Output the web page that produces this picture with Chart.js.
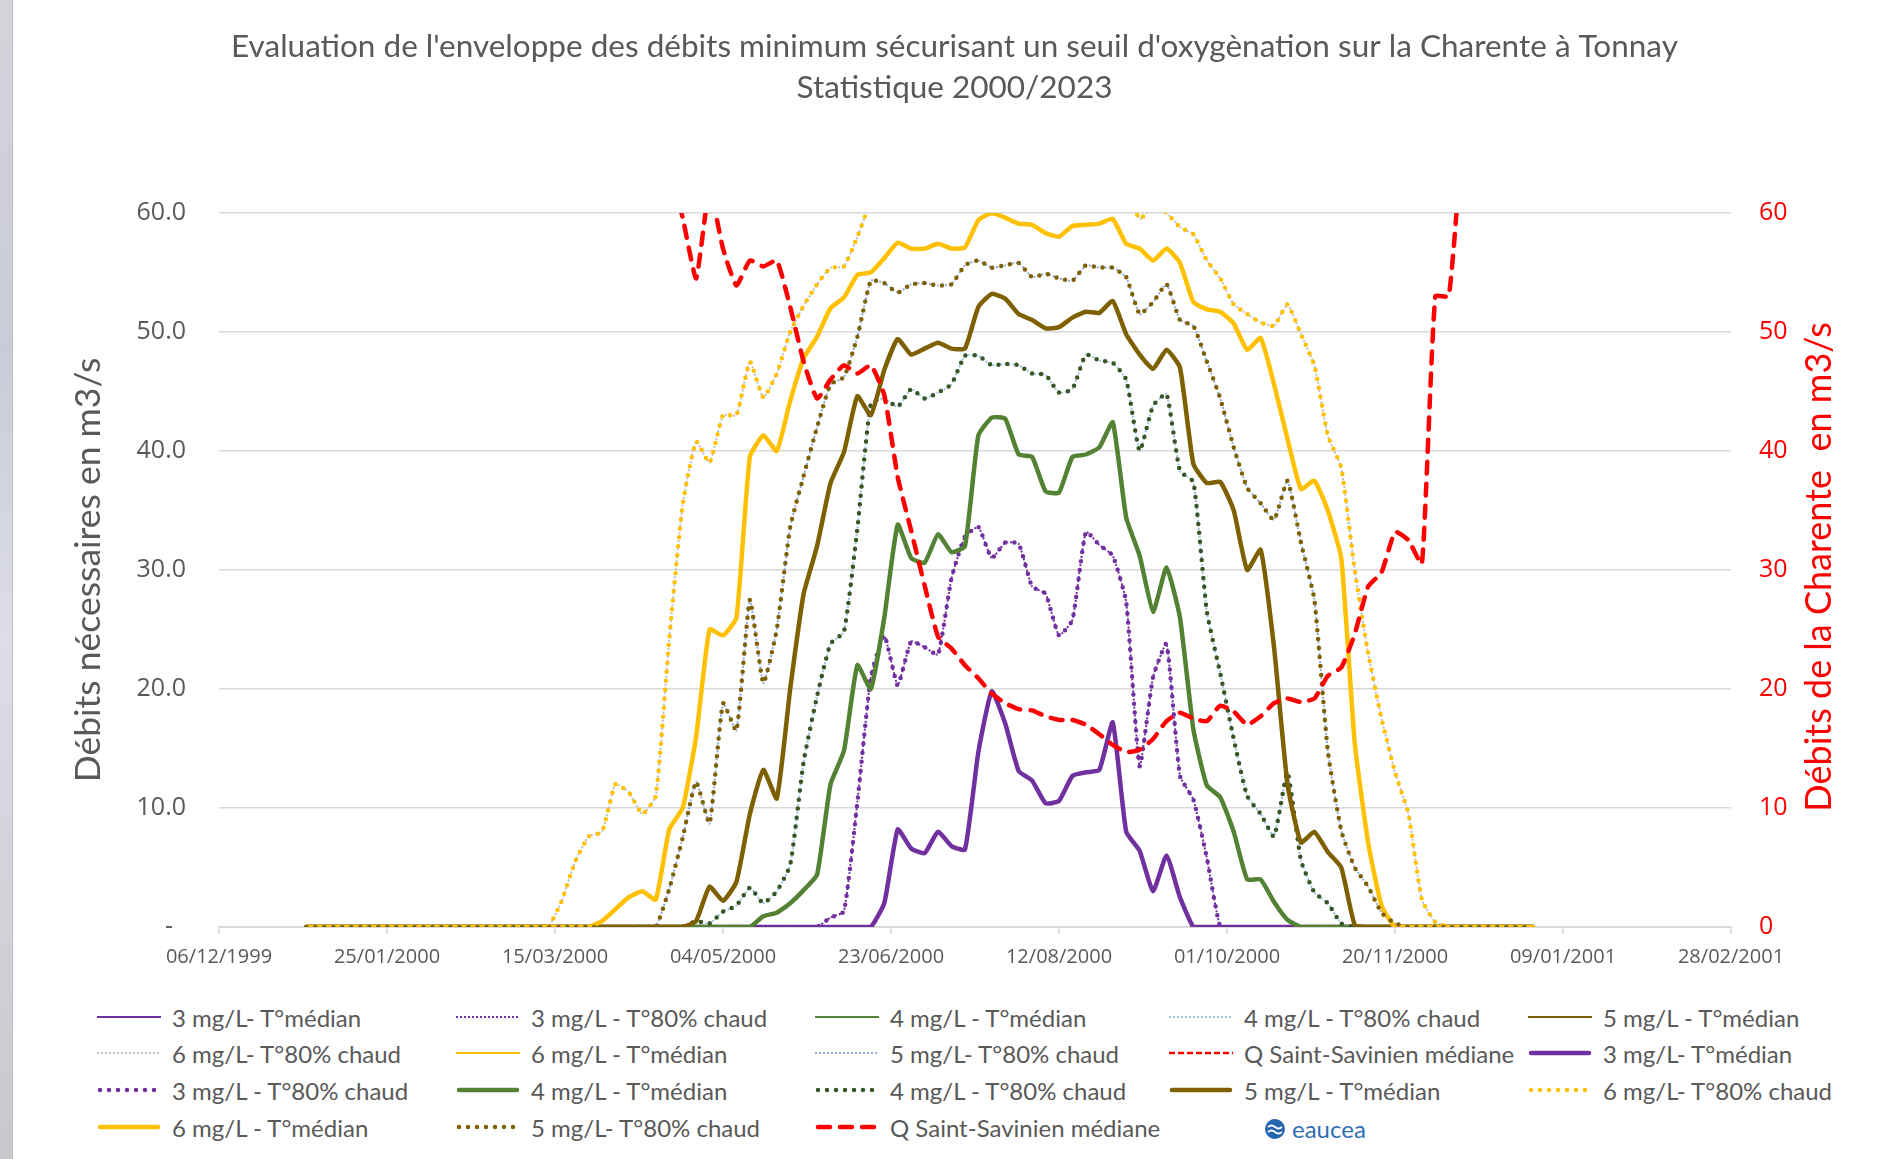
<!DOCTYPE html>
<html>
<head>
<meta charset="utf-8">
<title>Charente à Tonnay - enveloppe des débits</title>
<script src="https://cdn.jsdelivr.net/npm/chart.js@4.4.1/dist/chart.umd.min.js"></script>
<style>
    body { margin: 0; background: #fff; width: 1883px; height: 1159px; overflow: hidden; position: relative; font-family: Lato, sans-serif; }
    #bord { position: absolute; left: 0; top: 0; width: 12px; height: 1159px; background: linear-gradient(180deg, #d4d4da 0%, #c9cbd8 30%, #dcdde6 55%, #c8c8cc 100%); border-right: 1px solid #bfbfbf; }
    #zone { position: absolute; left: 0; top: 0; width: 1883px; height: 990px; }
    .item { position: absolute; display: flex; align-items: center; height: 30px; font-size: 24px; color: #595959; white-space: nowrap; }
    .item svg { margin-right: 11px; }
    #logo { position: absolute; left: 1264px; top: 1114px; display: flex; align-items: center; font-size: 24px; color: #2E6DB4; }
    #logo svg { margin-right: 6px; }
</style>
</head>
<body>
<div id="bord"></div>
<div id="zone"><canvas id="graphe"></canvas></div>
<div id="legende"></div>
<div id="logo"><svg width="22" height="22" viewBox="0 0 22 22"><circle cx="11" cy="11" r="10" fill="#2466B0"/><path d="M4 9 q3.5 -3 7 0 t7 0" stroke="#fff" stroke-width="1.8" fill="none"/><path d="M4 14 q3.5 -3 7 0 t7 0" stroke="#fff" stroke-width="1.8" fill="none"/></svg>eaucea</div>

<script>
// jours de l'annee 2000 (0 = 01/01/2000)
var jours = [0,
    60, 64, 68, 72, 76, 80, 84, 88, 92, 96, 100, 104,
    108, 112, 116, 120, 124, 128, 132, 136, 140, 144, 148, 152,
    156, 160, 164, 168, 172, 176, 180, 184, 188, 192, 196, 200,
    204, 208, 212, 216, 220, 224, 228, 232, 236, 240, 244, 248,
    252, 256, 260, 264, 268, 272, 276, 280, 284, 288, 292, 296,
    300, 304, 308, 312, 316, 320, 324, 328, 332, 336, 340, 344,
    348, 365];

// debits necessaires (m3/s)
var q3Median = [0,
    0, 0, 0, 0, 0, 0, 0, 0, 0, 0, 0, 0,
    0, 0, 0, 0, 0, 0, 0, 0, 0, 0, 0, 0,
    0, 0, 0, 0, 2, 8.2, 6.6, 6.2, 8, 6.8, 6.5, 14.7,
    19.8, 17.1, 13.1, 12.3, 10.4, 10.6, 12.7, 13, 13.2, 17.2, 8, 6.4,
    3, 6, 2.5, 0, 0, 0, 0, 0, 0, 0, 0, 0,
    0, 0, 0, 0, 0, 0, 0, 0, 0, 0, 0, 0,
    0, 0];

var q3Chaud = [0,
    0, 0, 0, 0, 0, 0, 0, 0, 0, 0, 0, 0,
    0, 0, 0, 0, 0, 0, 0, 0, 0, 0, 0, 0,
    0.8, 1.3, 10.5, 21, 24.5, 20.3, 24, 23.5, 22.9, 29.3, 32.8, 33.6,
    31, 32.3, 32.2, 28.6, 28, 24.5, 25.8, 33.2, 32.1, 31.2, 27.3, 13.5,
    21, 23.8, 12.7, 10.7, 5.8, 0, 0, 0, 0, 0, 0, 0,
    0, 0, 0, 0, 0, 0, 0, 0, 0, 0, 0, 0,
    0, 0];

var q4Median = [0,
    0, 0, 0, 0, 0, 0, 0, 0, 0, 0, 0, 0,
    0, 0, 0, 0, 0, 0, 0, 0.9, 1.2, 2, 3.1, 4.4,
    12, 14.8, 22, 20, 26, 33.8, 31, 30.6, 33, 31.5, 32, 41.3,
    42.8, 42.7, 39.7, 39.5, 36.6, 36.5, 39.5, 39.7, 40.3, 42.4, 34.4, 31.2,
    26.5, 30.2, 26, 16.6, 11.9, 10.9, 8, 4, 4, 2.1, 0.6, 0,
    0, 0, 0, 0, 0, 0, 0, 0, 0, 0, 0, 0,
    0, 0];

var q4Chaud = [0,
    0, 0, 0, 0, 0, 0, 0, 0, 0, 0, 0, 0,
    0, 0, 0.5, 0.3, 1.3, 1.8, 3.3, 2, 3, 5.2, 13.9, 19.4,
    23.8, 24.8, 33.5, 44, 44.4, 43.7, 45.2, 44.4, 44.9, 45.6, 48, 48,
    47.2, 47.3, 47.2, 46.5, 46.4, 44.9, 45.2, 48.1, 47.6, 47.4, 46, 40,
    43.8, 44.8, 38.3, 37.4, 26.5, 21.3, 15.8, 11, 9.5, 7.6, 13, 5.6,
    2.9, 2, 0.3, 0, 0, 0, 0, 0, 0, 0, 0, 0,
    0, 0];

var q5Median = [0,
    0, 0, 0, 0, 0, 0, 0, 0, 0, 0, 0, 0,
    0, 0, 0.5, 3.4, 2.2, 3.8, 9.5, 13.2, 10.8, 20, 28, 32,
    37.3, 39.9, 44.6, 43, 46.8, 49.4, 48.1, 48.6, 49.1, 48.6, 48.6, 52.1,
    53.2, 52.8, 51.5, 51, 50.3, 50.4, 51.2, 51.7, 51.6, 52.6, 49.8, 48.1,
    46.9, 48.5, 47, 38.9, 37.3, 37.4, 35, 30, 31.7, 23.5, 12, 7.1,
    8, 6.3, 5, 0.2, 0, 0, 0, 0, 0, 0, 0, 0,
    0, 0];

var q5Chaud = [0,
    0, 0, 0, 0, 0, 0, 0, 0, 0, 0, 0, 0,
    3.2, 7.5, 12.2, 8.7, 18.8, 16.5, 27.5, 20.5, 25, 33.6, 37.9, 42,
    45.6, 46.2, 49.6, 54.3, 54.1, 53.3, 54, 54.1, 53.9, 54, 55.6, 56,
    55.4, 55.6, 55.8, 54.6, 54.9, 54.5, 54.3, 55.6, 55.4, 55.4, 54.6, 51.5,
    52.5, 54, 51, 50.5, 47.5, 44.4, 40.3, 36.9, 35.6, 34.2, 37.5, 32.3,
    27.5, 14.8, 8.1, 5, 3.4, 1.2, 0.3, 0, 0, 0, 0, 0,
    0, 0];

var q6Median = [0,
    0, 0, 0, 0, 0, 0, 0, 0.5, 1.5, 2.5, 3, 2.3,
    8.2, 10, 16, 25, 24.5, 26, 39.5, 41.3, 40, 44.2, 47.8, 49.6,
    52, 52.9, 54.8, 55, 56.2, 57.5, 57, 57, 57.4, 57, 57.1, 59.4,
    60, 59.6, 59.1, 59, 58.3, 58, 58.9, 59, 59.1, 59.5, 57.4, 57,
    56, 57, 55.8, 52.5, 51.9, 51.7, 50.7, 48.5, 49.5, 45.6, 41, 36.8,
    37.5, 35, 31, 15.5, 7.1, 1.8, 0, 0, 0, 0, 0, 0,
    0, 0];

var q6Chaud = [0,
    0, 0, 0, 0, 2.2, 5.5, 7.6, 8, 12, 11.3, 9.5, 11,
    24.2, 35.5, 40.8, 39, 43, 43, 47.5, 44.5, 46.5, 50, 52.2, 54,
    55.4, 55.5, 58, 61, 63, 64, 64, 65, 65, 65, 66, 66,
    66, 66, 66, 66, 66, 66, 66, 66, 65, 64, 62, 59.5,
    60.5, 60, 58.8, 58.2, 56, 54.5, 52.3, 51.5, 50.8, 50.5, 52.3, 49.8,
    47.2, 41.3, 38.6, 30, 23, 17.5, 13, 9.5, 2.3, 0.4, 0, 0,
    0, 0];

// debit de la Charente (axe de droite)
var qSaintSavinien = [90,
    85, 85, 82, 80, 80, 78, 78, 76, 75, 72, 70, 68,
    64, 59.6, 54.5, 62, 57, 53.9, 56, 55.5, 56, 52.1, 47.5, 44.4,
    46, 47.2, 46.5, 47.2, 44.7, 37.8, 33.3, 28.7, 24.4, 23.4, 22, 20.9,
    19.6, 18.8, 18.3, 18.2, 17.7, 17.4, 17.4, 17, 16.2, 15.3, 14.7, 14.9,
    15.8, 17.3, 18, 17.5, 17.3, 18.6, 18.1, 17, 17.7, 18.8, 19.2, 18.9,
    19.2, 21.1, 21.8, 24.6, 28.6, 29.8, 33.2, 32.5, 30.5, 53, 53, 66,
    75, 90];

var datesAxe = ['06/12/1999', '25/01/2000', '15/03/2000', '04/05/2000', '23/06/2000',
    '12/08/2000', '01/10/2000', '20/11/2000', '09/01/2001', '28/02/2001'];

var titre = ["Evaluation de l'enveloppe des débits minimum sécurisant un seuil d'oxygènation sur la Charente à Tonnay",
    "Statistique 2000/2023"];
var titreAxeGauche = "Débits nécessaires en m3/s";
var titreAxeDroit = "Débits de la Charente  en m3/s";

// ecart entre le debut de l'axe (06/12/1999) et le 01/01/2000
var DECALAGE = (Date.UTC(2000, 0, 1) - Date.UTC(1999, 11, 6)) / 86400000;

var traits = {
    fin:      { largeur: 2,   tirets: [],      cap: 'butt' },
    finPoint: { largeur: 2,   tirets: [2, 2],  cap: 'butt' },
    finTiret: { largeur: 2.5, tirets: [6, 3],  cap: 'butt' },
    plein:    { largeur: 4.5, tirets: [],      cap: 'round' },
    point:    { largeur: 4.5, tirets: [0, 9],  cap: 'round' },
    tiret:    { largeur: 4.5, tirets: [12, 10], cap: 'round' }
};

// ordre de la legende (les series fines sont dessinees sous les epaisses)
var series = [
    { nom: '3 mg/L- T°médian',         valeurs: q3Median, couleur: '#7030A0', trait: 'fin' },
    { nom: '3 mg/L - T°80% chaud',     valeurs: q3Chaud,  couleur: '#7030A0', trait: 'finPoint' },
    { nom: '4 mg/L - T°médian',        valeurs: q4Median, couleur: '#548235', trait: 'fin' },
    { nom: '4 mg/L - T°80% chaud',     valeurs: q4Chaud,  couleur: '#9DC3E6', trait: 'finPoint' },
    { nom: '5 mg/L - T°médian',        valeurs: q5Median, couleur: '#7F6000', trait: 'fin' },
    { nom: '6 mg/L- T°80% chaud',      valeurs: q6Chaud,  couleur: '#BFBFBF', trait: 'finPoint' },
    { nom: '6 mg/L - T°médian',        valeurs: q6Median, couleur: '#FFC000', trait: 'fin' },
    { nom: '5 mg/L- T°80% chaud',      valeurs: q5Chaud,  couleur: '#8FAADC', trait: 'finPoint' },
    { nom: 'Q Saint-Savinien médiane', valeurs: [],       couleur: '#FF0000', trait: 'finTiret', axe: 'y2' },
    { nom: '3 mg/L- T°médian',         valeurs: q3Median, couleur: '#7030A0', trait: 'plein' },
    { nom: '3 mg/L - T°80% chaud',     valeurs: q3Chaud,  couleur: '#7030A0', trait: 'point' },
    { nom: '4 mg/L - T°médian',        valeurs: q4Median, couleur: '#548235', trait: 'plein' },
    { nom: '4 mg/L - T°80% chaud',     valeurs: q4Chaud,  couleur: '#375623', trait: 'point' },
    { nom: '5 mg/L - T°médian',        valeurs: q5Median, couleur: '#7F6000', trait: 'plein' },
    { nom: '6 mg/L- T°80% chaud',      valeurs: q6Chaud,  couleur: '#FFC000', trait: 'point' },
    { nom: '6 mg/L - T°médian',        valeurs: q6Median, couleur: '#FFC000', trait: 'plein' },
    { nom: '5 mg/L- T°80% chaud',      valeurs: q5Chaud,  couleur: '#7F6000', trait: 'point' },
    { nom: 'Q Saint-Savinien médiane', valeurs: qSaintSavinien, couleur: '#FF0000', trait: 'tiret', axe: 'y2' }
];

function points(valeurs)
{
    return valeurs.map(function (v, i) {
        return { x: jours[i] + DECALAGE, y: v };
    });
}

var datasets = series.map(function (s, i) {
    var t = traits[s.trait];
    return {
        label: s.nom,
        data: points(s.valeurs),
        yAxisID: s.axe || 'y',
        borderColor: s.couleur,
        backgroundColor: s.couleur,
        borderWidth: t.largeur,
        borderDash: t.tirets,
        borderCapStyle: t.cap,
        borderJoinStyle: 'round',
        pointRadius: 0,
        fill: false,
        tension: 0.15,
        order: series.length - i
    };
});

// titre de l'axe de droite, lu de bas en haut comme a gauche
var titreDroit = {
    id: 'titreDroit',
    afterDraw: function (chart) {
        var ctx = chart.ctx;
        var a = chart.chartArea;
        ctx.save();
        ctx.translate(chart.scales.y2.right - 64, (a.top + a.bottom) / 2 - 3);
        ctx.rotate(-Math.PI / 2);
        ctx.font = '36px Lato';
        ctx.fillStyle = '#FF0000';
        ctx.textAlign = 'center';
        ctx.textBaseline = 'middle';
        ctx.fillText(titreAxeDroit, 0, 0);
        ctx.restore();
    }
};

var graphe = new Chart(document.getElementById('graphe'), {
    type: 'line',
    data: { datasets: datasets },
    options: {
        responsive: true,
        maintainAspectRatio: false,
        animation: false,
        layout: { padding: { left: 26 } },
        plugins: {
            legend: { display: false },
            tooltip: { enabled: false },
            title: {
                display: true,
                text: titre,
                color: '#595959',
                font: { family: 'Lato', size: 31.5, weight: 'normal', lineHeight: 1.3 },
                padding: { top: 26, bottom: 105 }
            }
        },
        scales: {
            x: {
                type: 'linear',
                min: 0,
                max: 450,
                ticks: {
                    stepSize: 50,
                    autoSkip: false,
                    maxRotation: 0,
                    color: '#595959',
                    font: { family: 'Open Sans', size: 20 },
                    padding: 11,
                    callback: function (v) { return datesAxe[Math.round(v / 50)]; }
                },
                grid: { drawOnChartArea: false, drawTicks: true, tickLength: 7, color: '#D9D9D9', lineWidth: 1.5 },
                border: { display: true, color: '#D9D9D9', width: 2 },
                afterFit: function (s) { s.height = 63; }
            },
            y: {
                position: 'left',
                min: 0,
                max: 60,
                ticks: {
                    stepSize: 10,
                    color: '#595959',
                    font: { family: 'Open Sans', size: 25 },
                    padding: 33,
                    callback: function (v) { return v == 0 ? '-  ' : v.toFixed(1); }
                },
                grid: { color: '#D9D9D9', lineWidth: 1.5, drawTicks: false },
                border: { display: false },
                title: {
                    display: true,
                    text: titreAxeGauche,
                    color: '#595959',
                    font: { family: 'Lato', size: 35.5 },
                    padding: { top: 41, bottom: 0 }
                },
                afterFit: function (s) { s.width = 193; }
            },
            y2: {
                position: 'right',
                min: 0,
                max: 60,
                ticks: {
                    stepSize: 10,
                    color: '#FF0000',
                    font: { family: 'Open Sans', size: 25 },
                    padding: 28
                },
                grid: { drawOnChartArea: false, drawTicks: false },
                border: { display: false },
                afterFit: function (s) { s.width = 152; }
            }
        }
    },
    plugins: [titreDroit]
});

// legende en grille, comme dans le tableur
var colonnes = [97, 456, 815, 1169, 1528];
var lignes = [1017, 1053, 1090, 1127];

function echantillon(s)
{
    var t = traits[s.trait];
    var rond = t.cap == 'round';
    var dash = t.tirets.length ? ' stroke-dasharray="' + t.tirets.join(' ') + '"' : '';
    return '<svg width="64" height="12"><line x1="' + (rond ? 3 : 0) + '" y1="6" x2="' + (rond ? 61 : 64) +
        '" y2="6" stroke="' + s.couleur + '" stroke-width="' + t.largeur + '" stroke-linecap="' + t.cap + '"' + dash + '/></svg>';
}

var html = '';
series.forEach(function (s, i) {
    var col = i % 5;
    var lig = Math.floor(i / 5);
    html += '<div class="item" style="left:' + colonnes[col] + 'px;top:' + (lignes[lig] - 15) + 'px">' +
        echantillon(s) + '<span>' + s.nom + '</span></div>';
});
document.getElementById('legende').innerHTML = html;
</script>
</body>
</html>
